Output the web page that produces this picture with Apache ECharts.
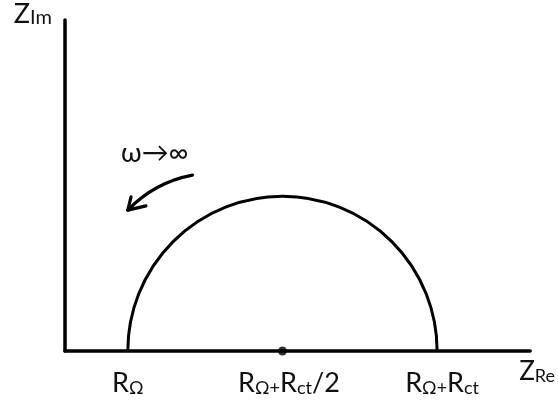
<!DOCTYPE html>
<html>
<head>
<meta charset="utf-8">
<script src="https://cdn.jsdelivr.net/npm/echarts@6/dist/echarts.min.js"></script>
<style>
  html, body { margin: 0; padding: 0; background: #fff; }
  #chart { width: 558px; height: 400px; }
</style>
</head>
<body>
<div id="chart"></div>
<script>
// Nyquist diagram of a simple Randles cell: one semicircle on the real axis.
const rOhm = 1.35;              // solution resistance R_Ω
const rCt = 6.65;               // charge-transfer resistance R_ct
const xRange = [0, 10];
const yRange = [0, 7];

// Tick positions on the real axis and their labels
const tickValues = [rOhm, rOhm + rCt / 2, rOhm + rCt];
const tickLabels = ['{r|R}{s|Ω}', '{g|}{r|R}{s|Ω+}{r|R}{s|ct}{r|/2}', '{h|}{r|R}{s|Ω+}{r|R}{s|ct}'];

// High-frequency annotation (data units): text anchor and curved arrow
const noteText = 'ω→∞';
const notePos = [1.93, 4.18];
const arrowStart = [2.74, 3.72];
const arrowCtrl = [1.93, 3.57];
const arrowTip = [1.35, 2.98];
const arrowBarbs = [[1.42, 3.26], [1.74, 3.07]];

const FONT = 'Lato';
const INK = '#111';

const chart = echarts.init(document.getElementById('chart'), null, { renderer: 'canvas' });

const richLabel = {
  r: { fontFamily: FONT, fontSize: 27, color: INK },
  s: { fontFamily: FONT, fontSize: 18, color: INK, verticalAlign: 'bottom' },
  g: { width: 13 },
  h: { width: 10 }
};

chart.setOption({
  animation: false,
  backgroundColor: '#fff',
  grid: { left: 65, right: 26, top: 20, bottom: 49, containLabel: false },
  xAxis: {
    type: 'value',
    min: xRange[0],
    max: xRange[1],
    splitLine: { show: false },
    axisTick: { show: false },
    axisLine: { lineStyle: { color: '#000', width: 3.5 } },
    axisLabel: {
      customValues: tickValues,
      margin: 19,
      formatter: function (v) {
        const i = tickValues.findIndex(t => Math.abs(t - v) < 1e-6);
        return i >= 0 ? tickLabels[i] : '';
      },
      rich: richLabel
    },
    name: '{z|Z}{s|Re}',
    nameLocation: 'end',
    nameGap: -11,
    nameTextStyle: {
      align: 'left',
      verticalAlign: 'top',
      padding: [8, 0, 0, 0],
      rich: {
        z: { fontFamily: FONT, fontSize: 26, color: INK },
        s: { fontFamily: FONT, fontSize: 18, color: INK, verticalAlign: 'bottom' }
      }
    }
  },
  yAxis: {
    type: 'value',
    min: yRange[0],
    max: yRange[1],
    splitLine: { show: false },
    axisTick: { show: false },
    axisLabel: { show: false },
    axisLine: { lineStyle: { color: '#000', width: 3.5 } },
    name: '{z|Z}{s|Im}',
    nameLocation: 'end',
    nameGap: -8,
    nameTextStyle: {
      align: 'right',
      verticalAlign: 'bottom',
      padding: [0, 13, 0, 0],
      rich: {
        z: { fontFamily: FONT, fontSize: 27, color: INK },
        s: { fontFamily: FONT, fontSize: 20, color: INK, verticalAlign: 'bottom' }
      }
    }
  },
  series: [
    {
      // Semicircle centred at R_Ω + R_ct/2 with radius R_ct/2
      type: 'custom',
      data: [[rOhm, rCt]],
      renderItem: function (params, api) {
        const r0 = api.value(0);
        const rc = api.value(1);
        const c = api.coord([r0 + rc / 2, 0]);
        const e = api.coord([r0 + rc, 0]);
        return {
          type: 'arc',
          shape: { cx: c[0], cy: c[1], r: e[0] - c[0], startAngle: Math.PI, endAngle: 2 * Math.PI, clockwise: true },
          style: { stroke: '#000', fill: null, lineWidth: 3 },
          silent: true
        };
      }
    },
    {
      type: 'scatter',
      data: [[rOhm + rCt / 2, 0]],
      symbol: 'circle',
      symbolSize: 9,
      itemStyle: { color: '#000' },
      z: 5
    }
  ]
});

// Annotation drawn in pixel space from data-unit anchors
function px(p) { return chart.convertToPixel({ gridIndex: 0 }, p); }
const s = px(arrowStart), c = px(arrowCtrl), t = px(arrowTip);
const b1 = px(arrowBarbs[0]), b2 = px(arrowBarbs[1]), tp = px(notePos);

chart.setOption({
  graphic: [
    {
      type: 'text',
      x: tp[0], y: tp[1],
      style: { text: noteText, font: '27px ' + FONT, fill: INK, align: 'center', verticalAlign: 'middle' }
    },
    {
      type: 'bezierCurve',
      shape: { x1: s[0], y1: s[1], cpx1: c[0], cpy1: c[1], x2: t[0], y2: t[1] },
      style: { stroke: '#000', lineWidth: 3.2, fill: null, lineCap: 'round' }
    },
    {
      type: 'polyline',
      shape: { points: [b1, t, b2] },
      style: { stroke: '#000', lineWidth: 3.2, fill: null, lineCap: 'round', lineJoin: 'round' }
    }
  ]
});
</script>
</body>
</html>
